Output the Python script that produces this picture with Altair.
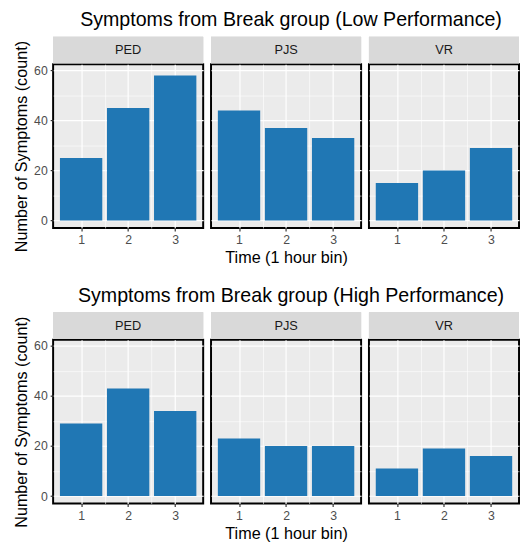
import altair as alt
import pandas as pd

groups = ["PED", "PJS", "VR"]
times = [1, 2, 3]
low_counts = {"PED": [25, 45, 58], "PJS": [44, 37, 33], "VR": [15, 20, 29]}
high_counts = {"PED": [29, 43, 34], "PJS": [23, 20, 20], "VR": [11, 19, 16]}
y_ticks = [0, 10, 20, 30, 40, 50, 60]
x_ticks = [1, 1.5, 2, 2.5, 3]
titles = ["Symptoms from Break group (Low Performance)",
          "Symptoms from Break group (High Performance)"]
x_title = "Time (1 hour bin)"
y_title = "Number of Symptoms (count)"

W, H = 153, 167
STRIP = 28
BAR = "#2077B4"
FONT = "Liberation Sans"


def cond(test, a, b):
    return {"condition": {"test": test, "value": a}, "value": b}


def panel(counts, group, first, middle):
    df = pd.DataFrame({"group": group, "time": times, "count": counts[group]})
    yaxis_kw = dict(
        values=y_ticks,
        gridColor="white",
        gridWidth=cond("datum.value % 20 == 0", 1.2, 0.6),
        domain=False,
    )
    if first:
        yaxis = alt.Axis(
            title=y_title,
            labelExpr="datum.value % 20 == 0 ? datum.label : ''",
            tickOpacity=cond("datum.value % 20 == 0", 1, 0),
            tickColor="#333333", tickSize=3, tickWidth=1.2,
            labelColor="#4D4D4D", labelFontSize=12.5, labelFont=FONT,
            labelPadding=3,
            titleFont=FONT, titleFontSize=16.5, titleFontWeight="normal",
            titleColor="black", titlePadding=4,
            **yaxis_kw,
        )
    else:
        yaxis = alt.Axis(title=None, labels=False, ticks=False, **yaxis_kw)
    xaxis_kw = dict(
        values=x_ticks,
        labelExpr="datum.value % 1 == 0 ? format(datum.value, 'd') : ''",
        tickOpacity=cond("datum.value % 1 == 0", 1, 0),
        tickColor="#333333", tickSize=3, tickWidth=1.2,
        labelColor="#4D4D4D", labelFontSize=12.5, labelFont=FONT,
        labelPadding=3,
        gridColor="white",
        gridWidth=cond("datum.value % 1 == 0", 1.2, 0.6),
        domain=False,
        titleFont=FONT, titleFontSize=16.5, titleFontWeight="normal",
        titleColor="black", titlePadding=4,
        labelFlush=False,
    )
    xaxis = alt.Axis(title=x_title if middle else None, **xaxis_kw)

    base = alt.Chart(df)
    strip = base.mark_rect(color="#D9D9D9").encode(
        x=alt.value(0), x2=alt.value(W),
        y=alt.value(-STRIP), y2=alt.value(-1),
    )
    bars = base.transform_calculate(
        x0="datum.time - 0.45", x1="datum.time + 0.45"
    ).mark_bar(color=BAR).encode(
        x=alt.X("x0:Q", scale=alt.Scale(domain=[0.405, 3.595], nice=False, zero=False), axis=xaxis),
        x2="x1:Q",
        y=alt.Y("count:Q", scale=alt.Scale(domain=[-3, 62.5], nice=False, zero=False), axis=yaxis),
        y2=alt.datum(0),
    )
    label = base.transform_filter("datum.time == 1").mark_text(
        font=FONT, fontSize=13, color="#1A1A1A", baseline="middle", align="center"
    ).encode(
        x=alt.value(W / 2), y=alt.value(-STRIP / 2), text="group:N"
    )
    return alt.layer(strip, bars, label).properties(width=W, height=H)


def row(counts, title):
    return alt.hconcat(
        *[panel(counts, g, i == 0, i == 1) for i, g in enumerate(groups)],
        spacing=6,
        title=alt.TitleParams(title, anchor="middle", font=FONT, fontSize=20,
                              fontWeight="normal", color="black", offset=6, dx=25),
    )


chart = alt.vconcat(
    row(low_counts, titles[0]), row(high_counts, titles[1]), spacing=19
).configure_view(
    fill="#EBEBEB", stroke="black", strokeWidth=2
).properties(padding={"left": 5, "top": -3, "right": 0, "bottom": 0})

chart.save("out.html", embed_options={"renderer": "svg", "actions": False})
